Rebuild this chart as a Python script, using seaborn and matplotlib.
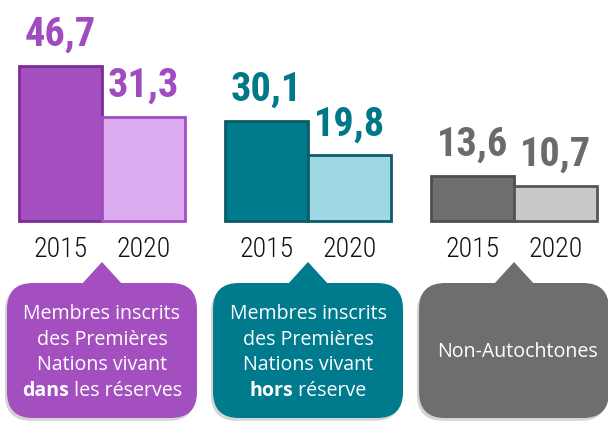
import matplotlib
matplotlib.use("Agg")
import matplotlib.pyplot as plt
import matplotlib.patheffects as pe
from matplotlib.patches import FancyBboxPatch, Polygon
import seaborn as sns
import pandas as pd

# ---- data ----
groups = ["dans les réserves", "hors réserve", "Non-Autochtones"]
years = ["2015", "2020"]
values_2015 = [46.7, 30.1, 13.6]
values_2020 = [31.3, 19.8, 10.7]
bubble_plain = [
    ["Membres inscrits", "des Premières", "Nations vivant"],
    ["Membres inscrits", "des Premières", "Nations vivant"],
    [],
]
bubble_last = [("dans", " les réserves"), ("hors", " réserve"), ("", "Non-Autochtones")]

# ---- styles ----
fill_dark = ["#a44fbf", "#007b8e", "#6e6e6e"]
fill_light = ["#dcaaee", "#9ed9e3", "#c9c9c9"]
edge_dark = ["#7a2d99", "#0d5c68", "#4e4e4e"]
edge_light = ["#a24dc2", "#0d5c68", "#555555"]
label_col = ["#a04cc0", "#00788a", "#6b6b6b"]

sns.set_theme(style="white")
VALUE_FONT = ["Roboto Condensed", "DejaVu Sans"]
YEAR_FONT = ["Roboto Condensed", "DejaVu Sans"]
BODY = ["Open Sans", "DejaVu Sans"]

W, H = 608, 423
fig = plt.figure(figsize=(W / 100, H / 100), dpi=100)
ax = fig.add_axes([0, 0, 1, 1])

df = pd.DataFrame({
    "group": groups * 2,
    "year": [years[0]] * len(groups) + [years[1]] * len(groups),
    "value": values_2015 + values_2020,
})
sns.barplot(data=df, x="group", y="value", hue="year", order=groups,
            hue_order=years, width=0.804, saturation=1, linewidth=2,
            legend=False, ax=ax, err_kws={"linewidth": 0})

ax.set_xlim(-0.495, 2.456)
ax.set_ylim(-60.8, 66.6)
ax.set_axis_off()

bars = sorted(ax.patches, key=lambda p: p.get_x())
for k, p in enumerate(bars):
    g, j = divmod(k, 2)
    p.set_facecolor(fill_dark[g] if j == 0 else fill_light[g])
    p.set_edgecolor(edge_dark[g] if j == 0 else edge_light[g])
    p.set_linewidth(2)
    cx = p.get_x() + p.get_width() / 2
    top = p.get_height()
    ax.annotate(f"{top:.1f}".replace(".", ","), xy=(cx, top), xytext=(0, 14.5),
                textcoords="offset points", ha="center", va="baseline",
                fontsize=29, fontweight="bold", color=label_col[g],
                family=VALUE_FONT)
    ax.annotate(years[j], xy=(cx, 0), xytext=(0, -25.5), textcoords="offset points",
                ha="center", va="baseline", fontsize=20, fontweight="light",
                color="#111111", family=YEAR_FONT)

# ---- overlay in pixel coordinates for the callouts ----
ov = fig.add_axes([0, 0, 1, 1], zorder=3)
ov.set_xlim(0, W)
ov.set_ylim(H, 0)
ov.set_axis_off()
ov.patch.set_alpha(0)

renderer = fig.canvas.get_renderer()
box_top, box_h, box_w = 283, 135, 190
FS = 14.1
for g in range(len(groups)):
    cx = ax.transData.transform((g, 0))[0]
    shadow = [pe.SimplePatchShadow(offset=(-1.5, -2), shadow_rgbFace="#888888", alpha=0.35), pe.Normal()]
    box = FancyBboxPatch((cx - box_w / 2, box_top), box_w, box_h,
                         boxstyle="round,pad=0,rounding_size=26",
                         fc=fill_dark[g], ec="none", path_effects=shadow)
    ov.add_patch(box)
    ov.add_patch(Polygon([(cx - 21, box_top + 2), (cx, 262), (cx + 21, box_top + 2)],
                         closed=True, fc=fill_dark[g], ec="none"))
    lines = bubble_plain[g]
    if lines:
        y0 = 319
        for i, ln in enumerate(lines):
            ov.text(cx, y0 + i * 25.7, ln, ha="center", va="baseline",
                    fontsize=FS, color="white", family=BODY)
        ylast = y0 + len(lines) * 25.7
        b, r = bubble_last[g]
        t1 = ov.text(0, ylast, b, ha="left", va="baseline", fontsize=FS,
                     fontweight="bold", color="white", family=BODY)
        t2 = ov.text(0, ylast, r, ha="left", va="baseline", fontsize=FS,
                     color="white", family=BODY)
        w1 = t1.get_window_extent(renderer).width
        w2 = t2.get_window_extent(renderer).width
        x0 = cx - (w1 + w2) / 2
        t1.set_x(x0)
        t2.set_x(x0 + w1)
    else:
        ov.text(cx + 3.5, 357, bubble_last[g][1], ha="center", va="baseline",
                fontsize=FS, color="white", family=BODY)

fig.savefig("out.png", dpi=100, facecolor="white")
